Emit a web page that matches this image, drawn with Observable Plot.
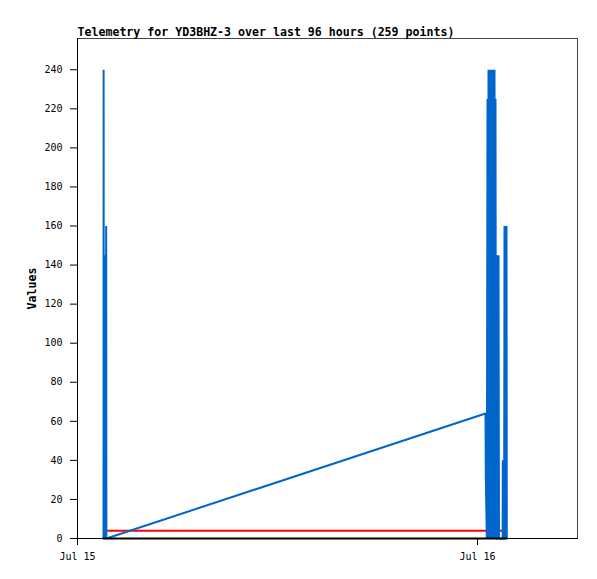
<!DOCTYPE html>
<html><head><meta charset="utf-8">
<script src="https://cdn.jsdelivr.net/npm/d3@7"></script>
<script src="https://cdn.jsdelivr.net/npm/@observablehq/plot@0.6"></script>
<style>html,body{margin:0;padding:0;background:#fff}</style>
</head><body><div id="chart"></div>
<script>
const title = "Telemetry for YD3BHZ-3 over last 96 hours (259 points)";
const yLabel = "Values";
const dayStart = Date.UTC(2023, 6, 15); // Jul 15 00:00 UTC
const xTickDays = ["2023-07-15T00:00:00Z", "2023-07-16T00:00:00Z"];
const yTicks = [0, 20, 40, 60, 80, 100, 120, 140, 160, 180, 200, 220, 240];
const xDomainMinutes = [0, 1800];
const yDomain = [0, 256];

// blue channel samples: minutes after Jul 15 00:00 and values
const blueMinutes = [93.6, 94.0, 94.7, 98.3, 99.0, 100.8, 101.5, 103.3, 104.0,
  1468.8, 1469.9, 1473.5, 1476.0, 1477.8, 1479.6, 1481.4, 1483.2, 1485.0, 1486.8,
  1488.6, 1490.4, 1492.2, 1494.0, 1495.8, 1497.6, 1499.4, 1501.2, 1503.0, 1504.8,
  1506.6, 1511.3, 1512.0, 1513.8, 1515.6, 1517.4, 1530.4, 1531.1, 1532.5, 1535.8,
  1537.2, 1539.0, 1540.8, 1542.6, 1544.4, 1545.5];
const blueValues = [0, 240, 0, 145, 0, 145, 0, 160, 0,
  64, 32, 0, 225, 0, 240, 0, 240, 0, 240,
  0, 240, 0, 240, 0, 240, 0, 240, 0, 225,
  0, 0, 145, 0, 145, 0, 0, 40, 0, 0,
  160, 0, 160, 0, 160, 0];
// red channel
const redMinutes = [91.8, 1528.9];
const redValues = [4, 4];
// black channel
const blackMinutes = [91.1, 1546.9];
const blackValues = [0, 0];

const toDate = m => new Date(dayStart + m * 60000);
const mk = (ms, vs) => ms.map((m, i) => ({t: toDate(m), v: vs[i]}));
const blue = mk(blueMinutes, blueValues);
const red = mk(redMinutes, redValues);
const black = mk(blackMinutes, blackValues);

const lineOpts = {x: "t", y: "v", strokeWidth: 2, strokeLinecap: "butt", strokeLinejoin: "bevel"};

const chart = Plot.plot({
  width: 597,
  height: 579,
  marginLeft: 77,
  marginRight: 20,
  marginTop: 38,
  marginBottom: 41,
  style: {fontFamily: "DejaVu Sans Mono", fontSize: "10px", background: "#fff", color: "#000"},
  x: {type: "utc", domain: xDomainMinutes.map(toDate)},
  y: {domain: yDomain},
  marks: [
    Plot.frame({stroke: "#444"}),
    Plot.line(red, {...lineOpts, stroke: "#ff0000"}),
    Plot.line(blue, {...lineOpts, stroke: "#0066cc"}),
    Plot.line(black, {...lineOpts, stroke: "#000"}),
    Plot.frame({anchor: "left", stroke: "#000"}),
    Plot.frame({anchor: "bottom", stroke: "#000"}),
    Plot.axisX({ticks: xTickDays.map(d => new Date(d)), tickFormat: d3.utcFormat("%b %d"), tickSize: 7, tickPadding: 7, label: null}),
    Plot.axisY({ticks: yTicks, tickSize: 7, tickPadding: 8, label: null}),
    Plot.text([title], {frameAnchor: "top-left", dy: -3, textAnchor: "start", lineAnchor: "bottom", fontWeight: "bold", fontSize: 11.6, fill: "#000"}),
    Plot.text([yLabel], {frameAnchor: "left", dx: -45, rotate: -90, textAnchor: "middle", lineAnchor: "middle", fontWeight: "bold", fontSize: 11.6, fill: "#000"})
  ]
});
document.getElementById("chart").appendChild(chart);
</script>
</body></html>
